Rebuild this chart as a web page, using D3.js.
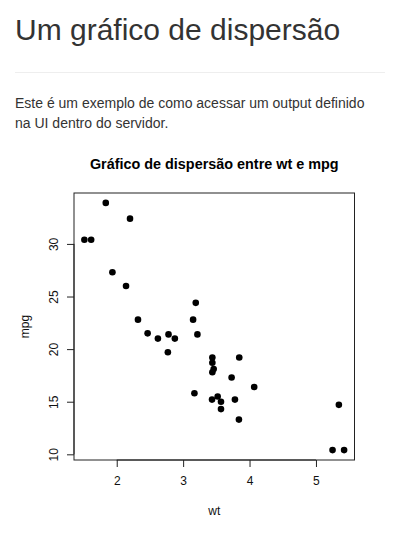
<!DOCTYPE html>
<html><head><meta charset="utf-8">
<script src="https://cdn.jsdelivr.net/npm/d3@7"></script>
<style>
html,body{margin:0;padding:0;background:#fff;width:400px;height:534px;overflow:hidden;font-family:"Liberation Sans",Arial,Helvetica,sans-serif;color:#333;}
h2{position:absolute;left:15px;top:13px;margin:0;font-size:30px;font-weight:500;line-height:1.1;white-space:nowrap;}
hr{position:absolute;left:15px;top:72px;width:370px;margin:0;border:0;border-top:1px solid #eee;}
p{position:absolute;left:15px;top:93px;margin:0;font-size:14px;line-height:20px;white-space:nowrap;}
svg{position:absolute;left:0;top:0;}
</style></head>
<body>
<h2>Um gráfico de dispersão</h2>
<hr>
<p>Este é um exemplo de como acessar um output definido<br>na UI dentro do servidor.</p>
<svg id="chart" width="400" height="534"></svg>
<script>
const wt  = [2.620,2.875,2.320,3.215,3.440,3.460,3.570,3.190,3.150,3.440,3.440,4.070,3.730,3.780,5.250,5.424,5.345,2.200,1.615,1.835,2.465,3.520,3.435,3.840,3.845,1.935,2.140,1.513,3.170,2.770,3.570,2.780];
const mpg = [21.0,21.0,22.8,21.4,18.7,18.1,14.3,24.4,22.8,19.2,17.8,16.4,17.3,15.2,10.4,10.4,14.7,32.4,30.4,33.9,21.5,15.5,15.2,13.3,19.2,27.3,26.0,30.4,15.8,19.7,15.0,21.4];
const xTicks = [2,3,4,5];
const yTicks = [10,15,20,25,30];
const title = "Gráfico de dispersão entre wt e mpg";

const L=74,R=354.5,T=193,B=460;
const svg=d3.select("#chart");
const pad=(a,b)=>{const s=(b-a)*0.04;return [a-s,b+s];};
const x=d3.scaleLinear().domain(pad(d3.min(wt),d3.max(wt))).range([L,R]);
const y=d3.scaleLinear().domain(pad(d3.min(mpg),d3.max(mpg))).range([B,T]);
const font='"Liberation Sans",Arial,Helvetica,sans-serif';

svg.append("rect").attr("x",L).attr("y",T).attr("width",R-L).attr("height",B-T)
  .attr("fill","none").attr("stroke","#222").attr("stroke-width",1);

const xa=svg.append("g").attr("transform",`translate(0,${B})`)
  .call(d3.axisBottom(x).tickValues(xTicks).tickFormat(d3.format("d")).tickSize(7).tickPadding(9));
const ya=svg.append("g").attr("transform",`translate(${L},0)`)
  .call(d3.axisLeft(y).tickValues(yTicks).tickFormat(d3.format("d")).tickSize(7).tickPadding(10));
[xa,ya].forEach(g=>{
  g.select(".domain").remove();
  g.selectAll(".tick line").attr("stroke","#222");
  g.selectAll("text").attr("font-family",font).attr("font-size",12).attr("fill","#111");
});
xa.append("line").attr("x1",x(xTicks[0])).attr("x2",x(xTicks[xTicks.length-1])).attr("stroke","#222");
ya.append("line").attr("y1",y(yTicks[0])).attr("y2",y(yTicks[yTicks.length-1])).attr("stroke","#222");
ya.selectAll(".tick text").attr("text-anchor","middle").attr("dy",0)
  .attr("transform",function(){return `translate(-16,0) rotate(-90)`;}).attr("x",0).attr("y",0);
xa.selectAll(".tick text").attr("dy","0.71em");

svg.append("g").selectAll("circle").data(wt.map((w,i)=>[w,mpg[i]])).join("circle")
  .attr("cx",d=>x(d[0])).attr("cy",d=>y(d[1])).attr("r",3.3).attr("fill","#000");

svg.append("text").attr("x",(L+R)/2).attr("y",169).attr("text-anchor","middle")
  .attr("font-family",font).attr("font-size",14.4).attr("font-weight","bold").attr("fill","#000").text(title);
svg.append("text").attr("x",(L+R)/2).attr("y",515).attr("text-anchor","middle")
  .attr("font-family",font).attr("font-size",12).attr("fill","#111").text("wt");
svg.append("text").attr("transform",`translate(29,${(T+B)/2}) rotate(-90)`).attr("text-anchor","middle")
  .attr("font-family",font).attr("font-size",12).attr("fill","#111").text("mpg");
</script>
</body></html>
